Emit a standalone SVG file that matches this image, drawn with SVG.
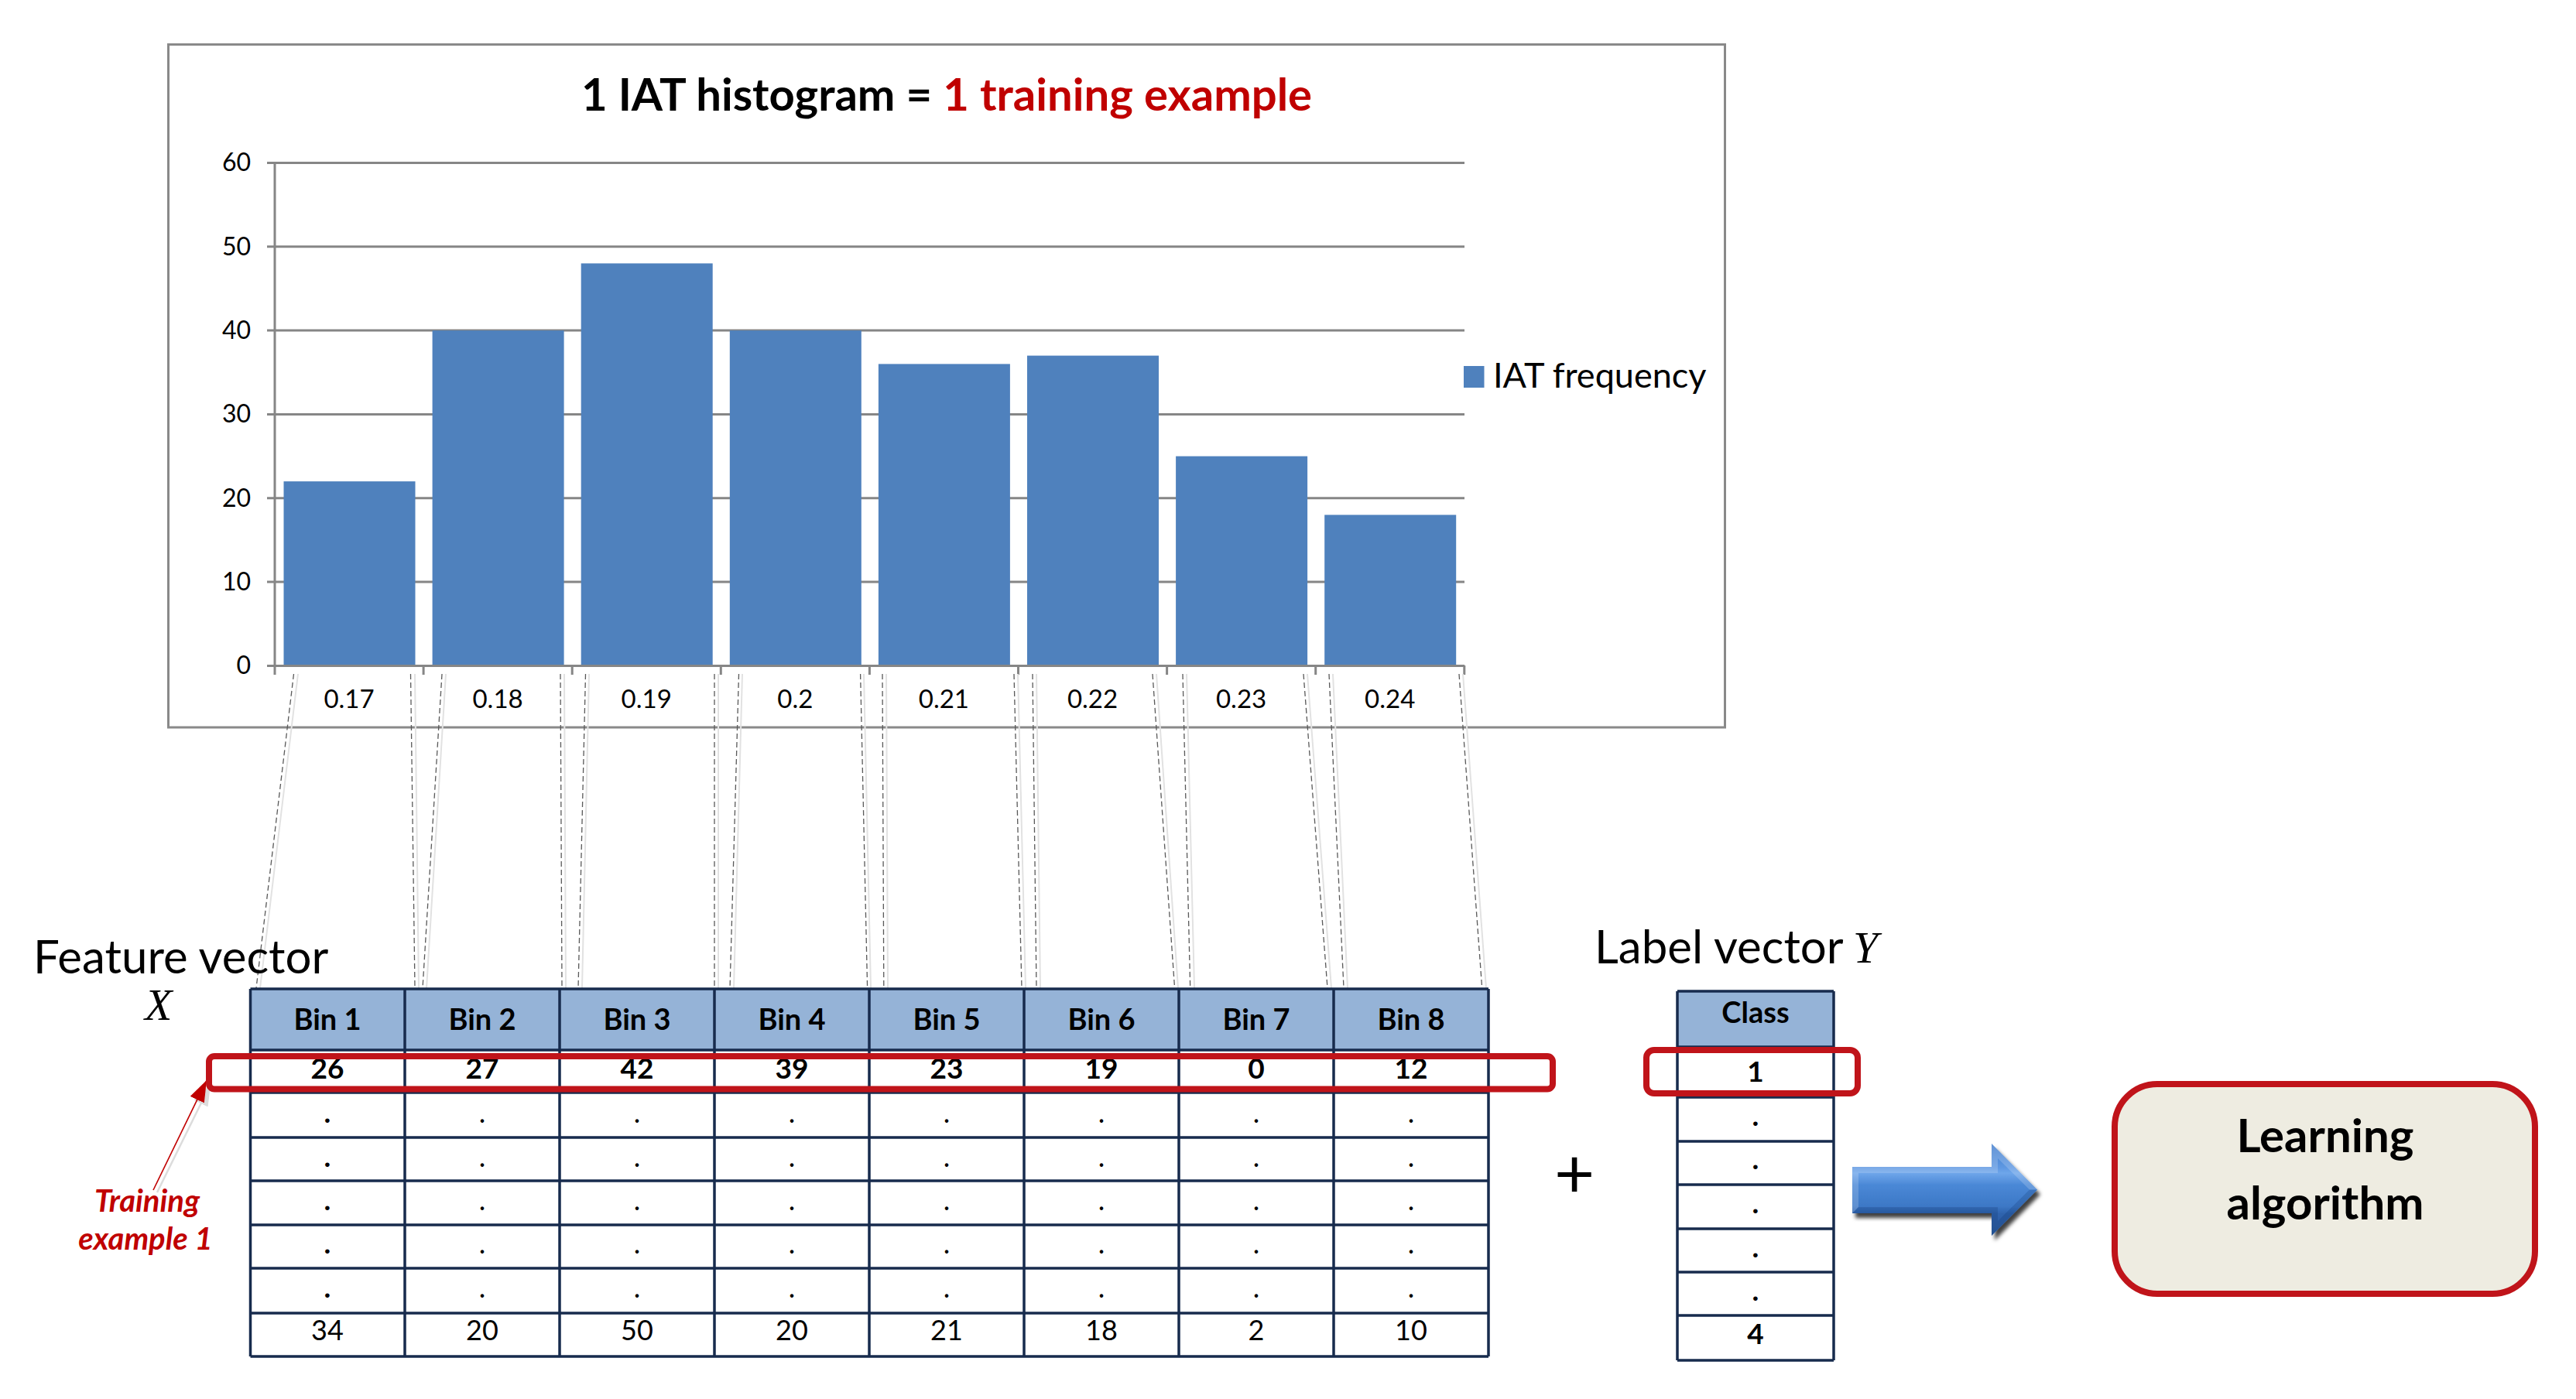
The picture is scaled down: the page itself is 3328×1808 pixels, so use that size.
<svg xmlns="http://www.w3.org/2000/svg" width="3328" height="1808" viewBox="0 0 3328 1808">
<style>
.f{font-family:Lato,"Open Sans","Liberation Sans",sans-serif}
.grid{stroke:#868686;stroke-width:3;fill:none}
.bar{fill:#4F81BD}
.ylab{font-size:32px;text-anchor:end;fill:#000}
.xlab{font-size:33px;text-anchor:middle;fill:#000}
.tline{stroke:#172B4D;stroke-width:3.5;fill:none}
.hdr{fill:#95B3D7}
.th{font-size:38px;font-weight:bold;text-anchor:middle}
.tb{font-size:37px;font-weight:bold;text-anchor:middle}
.tr{font-size:36px;text-anchor:middle}
.dash{stroke:#595959;stroke-width:1.3;stroke-dasharray:7 4;fill:none}
.dsh{stroke:#e2e2e2;stroke-width:2;fill:none}
.redbox{fill:none;stroke:#C0141A;stroke-width:8}
.big{font-size:60px}
.math{font-family:"Liberation Serif","DejaVu Serif",serif;font-style:italic;font-size:58px}
</style>
<defs>
<marker id="redhead" markerUnits="userSpaceOnUse" markerWidth="30" markerHeight="22" refX="28" refY="10" orient="auto">
<path d="M0,0 L28,10 L0,20 Z" fill="#C00000"/>
</marker>
<marker id="shadowhead" markerUnits="userSpaceOnUse" markerWidth="30" markerHeight="22" refX="28" refY="10" orient="auto">
<path d="M0,0 L28,10 L0,20 Z" fill="#dcdcdc"/>
</marker>
<linearGradient id="arrowGrad" gradientUnits="userSpaceOnUse" x1="0" y1="1478" x2="0" y2="1597">
<stop offset="0" stop-color="#3f7bcb"/>
<stop offset="0.26" stop-color="#5e98e2"/>
<stop offset="0.32" stop-color="#6fa6ea"/>
<stop offset="0.45" stop-color="#4a88d6"/>
<stop offset="0.68" stop-color="#3d78c6"/>
<stop offset="0.76" stop-color="#2f63ad"/>
<stop offset="1" stop-color="#2a5a9e"/>
</linearGradient>
<filter id="arrowShadow" x="-10%" y="-20%" width="125%" height="150%">
<feDropShadow dx="4" dy="6" stdDeviation="2.5" flood-color="#000" flood-opacity="0.75"/>
</filter>
</defs>

<rect width="3328" height="1808" fill="#fff"/>

<!-- Chart -->
<g id="chart" class="f">
<rect id="chart-frame" x="217.5" y="57.5" width="2011" height="882.5" fill="#fff" stroke="#898989" stroke-width="3"/>
<text id="chart-title" x="1223" y="143" text-anchor="middle" font-size="58" font-weight="bold" fill="#000">1 IAT histogram = <tspan fill="#C00000">1 training example</tspan></text>
<g id="gridlines">
<line class="grid" x1="345" y1="210.4" x2="1892" y2="210.4"/>
<line class="grid" x1="345" y1="318.7" x2="1892" y2="318.7"/>
<line class="grid" x1="345" y1="427.1" x2="1892" y2="427.1"/>
<line class="grid" x1="345" y1="535.4" x2="1892" y2="535.4"/>
<line class="grid" x1="345" y1="643.7" x2="1892" y2="643.7"/>
<line class="grid" x1="345" y1="752.1" x2="1892" y2="752.1"/>
</g>
<g id="bars">
<rect class="bar" x="366.5" y="622.1" width="170" height="238.3"/>
<rect class="bar" x="558.6" y="427.1" width="170" height="433.3"/>
<rect class="bar" x="750.7" y="340.4" width="170" height="520"/>
<rect class="bar" x="942.8" y="427.1" width="170" height="433.3"/>
<rect class="bar" x="1134.9" y="470.4" width="170" height="390"/>
<rect class="bar" x="1327" y="459.6" width="170" height="400.8"/>
<rect class="bar" x="1519.1" y="589.6" width="170" height="270.8"/>
<rect class="bar" x="1711.2" y="665.4" width="170" height="195"/>
</g>
<g id="axes">
<line class="grid" x1="355" y1="210.4" x2="355" y2="872"/>
<line class="grid" x1="345" y1="860.4" x2="1892" y2="860.4"/>
<path class="grid" d="M547.1,860 V872 M739.2,860 V872 M931.3,860 V872 M1123.4,860 V872 M1315.5,860 V872 M1507.6,860 V872 M1699.7,860 V872 M1891.8,860 V872"/>
</g>
<g id="y-labels">
<text class="ylab" x="324" y="221.4">60</text>
<text class="ylab" x="324" y="329.7">50</text>
<text class="ylab" x="324" y="438.1">40</text>
<text class="ylab" x="324" y="546.4">30</text>
<text class="ylab" x="324" y="654.7">20</text>
<text class="ylab" x="324" y="763.1">10</text>
<text class="ylab" x="324" y="871.4">0</text>
</g>
<g id="x-labels">
<text class="xlab" x="451" y="915">0.17</text>
<text class="xlab" x="643.1" y="915">0.18</text>
<text class="xlab" x="835.2" y="915">0.19</text>
<text class="xlab" x="1027.3" y="915">0.2</text>
<text class="xlab" x="1219.4" y="915">0.21</text>
<text class="xlab" x="1411.5" y="915">0.22</text>
<text class="xlab" x="1603.6" y="915">0.23</text>
<text class="xlab" x="1795.7" y="915">0.24</text>
</g>
<g id="legend">
<rect x="1891" y="473" width="26.5" height="28" fill="#4F81BD"/>
<text x="1929" y="501" font-size="45" fill="#000">IAT frequency</text>
</g>
</g>

<!-- Connectors -->
<g id="connectors">
<g id="projection-shadows">
<line class="dsh" x1="385" y1="871" x2="336" y2="1277"/>
<line class="dsh" x1="536" y1="871" x2="541" y2="1277"/>
<line class="dsh" x1="576" y1="871" x2="551" y2="1277"/>
<line class="dsh" x1="729" y1="871" x2="731" y2="1277"/>
<line class="dsh" x1="761" y1="871" x2="752" y2="1277"/>
<line class="dsh" x1="928" y1="871" x2="928" y2="1277"/>
<line class="dsh" x1="959" y1="871" x2="948" y2="1277"/>
<line class="dsh" x1="1116" y1="871" x2="1125" y2="1277"/>
<line class="dsh" x1="1145" y1="871" x2="1147" y2="1277"/>
<line class="dsh" x1="1315" y1="871" x2="1325" y2="1277"/>
<line class="dsh" x1="1339" y1="871" x2="1344" y2="1277"/>
<line class="dsh" x1="1494" y1="871" x2="1522" y2="1277"/>
<line class="dsh" x1="1533" y1="871" x2="1543" y2="1277"/>
<line class="dsh" x1="1689" y1="871" x2="1720" y2="1277"/>
<line class="dsh" x1="1722" y1="871" x2="1741" y2="1277"/>
<line class="dsh" x1="1890" y1="871" x2="1920" y2="1277"/>
</g>
<g id="projection-lines">
<line class="dash" x1="379.5" y1="871" x2="331" y2="1277"/>
<line class="dash" x1="530.5" y1="871" x2="536" y2="1277"/>
<line class="dash" x1="571" y1="871" x2="546" y2="1277"/>
<line class="dash" x1="724" y1="871" x2="726" y2="1277"/>
<line class="dash" x1="756.5" y1="871" x2="747" y2="1277"/>
<line class="dash" x1="923" y1="871" x2="923" y2="1277"/>
<line class="dash" x1="954.5" y1="871" x2="943" y2="1277"/>
<line class="dash" x1="1111.6" y1="871" x2="1120.6" y2="1277"/>
<line class="dash" x1="1140" y1="871" x2="1141.8" y2="1277"/>
<line class="dash" x1="1310" y1="871" x2="1320" y2="1277"/>
<line class="dash" x1="1334" y1="871" x2="1339" y2="1277"/>
<line class="dash" x1="1489" y1="871" x2="1517.6" y2="1277"/>
<line class="dash" x1="1528" y1="871" x2="1537.7" y2="1277"/>
<line class="dash" x1="1684" y1="871" x2="1715" y2="1277"/>
<line class="dash" x1="1717" y1="871" x2="1736" y2="1277"/>
<line class="dash" x1="1885" y1="871" x2="1914.7" y2="1277"/>
</g>
<g id="training-arrow">
<line x1="203" y1="1541" x2="272" y2="1401" stroke="#dcdcdc" stroke-width="2.5" marker-end="url(#shadowhead)"/>
<line x1="198" y1="1538" x2="267" y2="1396" stroke="#C00000" stroke-width="1.6" marker-end="url(#redhead)"/>
</g>
<g id="flow-arrow" filter="url(#arrowShadow)">
<path d="M2393,1508 L2573,1508 L2573,1478 L2632,1537.5 L2573,1597 L2573,1568 L2393,1568 Z" fill="url(#arrowGrad)"/>
<path d="M2393,1508 L2573,1508 L2573,1478 L2632,1537.5 L2622,1537.5 L2581,1497 L2581,1516 L2401,1516 L2401,1560 L2393,1568 Z" fill="#ffffff" opacity="0.18"/>
<path d="M2393,1568 L2573,1568 L2573,1597 L2632,1537.5 L2622,1537.5 L2581,1578 L2581,1560 L2401,1560 Z" fill="#0b2d66" opacity="0.2"/>
</g>
</g>

<!-- Feature vector label -->
<g id="feature-label" class="f">
<text class="big" x="43" y="1258" fill="#000">Feature vector</text>
<text class="math" x="187" y="1318" fill="#000">X</text>
</g>

<!-- Feature table -->
<g id="feature-table" class="f">
<rect class="hdr" x="323.5" y="1278" width="1599.5" height="79"/>
<rect x="323.5" y="1357" width="1599.5" height="396" fill="#fff"/>
<path class="tline" d="M323.5,1278 H1923 M323.5,1357 H1923 M323.5,1412 H1923 M323.5,1470 H1923 M323.5,1526 H1923 M323.5,1583 H1923 M323.5,1639 H1923 M323.5,1697 H1923 M323.5,1753 H1923"/>
<path class="tline" d="M323.5,1278 V1753 M523,1278 V1753 M723,1278 V1753 M923,1278 V1753 M1123,1278 V1753 M1323,1278 V1753 M1523,1278 V1753 M1723,1278 V1753 M1923,1278 V1753"/>
<g id="feature-header">
<text class="th" x="423" y="1331">Bin 1</text>
<text class="th" x="623" y="1331">Bin 2</text>
<text class="th" x="823" y="1331">Bin 3</text>
<text class="th" x="1023" y="1331">Bin 4</text>
<text class="th" x="1223" y="1331">Bin 5</text>
<text class="th" x="1423" y="1331">Bin 6</text>
<text class="th" x="1623" y="1331">Bin 7</text>
<text class="th" x="1823" y="1331">Bin 8</text>
</g>
<g id="feature-row1">
<text class="tb" x="423" y="1394">26</text>
<text class="tb" x="623" y="1394">27</text>
<text class="tb" x="823" y="1394">42</text>
<text class="tb" x="1023" y="1394">39</text>
<text class="tb" x="1223" y="1394">23</text>
<text class="tb" x="1423" y="1394">19</text>
<text class="tb" x="1623" y="1394">0</text>
<text class="tb" x="1823" y="1394">12</text>
</g>
<g id="feature-dots">
<text class="tb" x="423" y="1451">.</text><text class="tr" x="623" y="1451">.</text><text class="tr" x="823" y="1451">.</text><text class="tr" x="1023" y="1451">.</text><text class="tr" x="1223" y="1451">.</text><text class="tr" x="1423" y="1451">.</text><text class="tr" x="1623" y="1451">.</text><text class="tr" x="1823" y="1451">.</text>
<text class="tb" x="423" y="1508">.</text><text class="tr" x="623" y="1508">.</text><text class="tr" x="823" y="1508">.</text><text class="tr" x="1023" y="1508">.</text><text class="tr" x="1223" y="1508">.</text><text class="tr" x="1423" y="1508">.</text><text class="tr" x="1623" y="1508">.</text><text class="tr" x="1823" y="1508">.</text>
<text class="tb" x="423" y="1564">.</text><text class="tr" x="623" y="1564">.</text><text class="tr" x="823" y="1564">.</text><text class="tr" x="1023" y="1564">.</text><text class="tr" x="1223" y="1564">.</text><text class="tr" x="1423" y="1564">.</text><text class="tr" x="1623" y="1564">.</text><text class="tr" x="1823" y="1564">.</text>
<text class="tb" x="423" y="1620">.</text><text class="tr" x="623" y="1620">.</text><text class="tr" x="823" y="1620">.</text><text class="tr" x="1023" y="1620">.</text><text class="tr" x="1223" y="1620">.</text><text class="tr" x="1423" y="1620">.</text><text class="tr" x="1623" y="1620">.</text><text class="tr" x="1823" y="1620">.</text>
<text class="tb" x="423" y="1677">.</text><text class="tr" x="623" y="1677">.</text><text class="tr" x="823" y="1677">.</text><text class="tr" x="1023" y="1677">.</text><text class="tr" x="1223" y="1677">.</text><text class="tr" x="1423" y="1677">.</text><text class="tr" x="1623" y="1677">.</text><text class="tr" x="1823" y="1677">.</text>
</g>
<g id="feature-lastrow">
<text class="tr" x="423" y="1732">34</text>
<text class="tr" x="623" y="1732">20</text>
<text class="tr" x="823" y="1732">50</text>
<text class="tr" x="1023" y="1732">20</text>
<text class="tr" x="1223" y="1732">21</text>
<text class="tr" x="1423" y="1732">18</text>
<text class="tr" x="1623" y="1732">2</text>
<text class="tr" x="1823" y="1732">10</text>
</g>
</g>

<g id="training-example-box">
<rect class="redbox" x="270" y="1365" width="1736" height="42.5" rx="7"/>
</g>

<g id="training-label" class="f" fill="#C00000" font-weight="bold" font-style="italic" font-size="40" text-anchor="middle">
<text x="190" y="1566">Training</text>
<text x="188" y="1615">example 1</text>
</g>

<!-- Label vector -->
<g id="label-title" class="f">
<text class="big" x="2060" y="1245" fill="#000">Label vector</text>
<text class="math" x="2394" y="1244" fill="#000">Y</text>
</g>

<g id="label-table" class="f">
<rect class="hdr" x="2167" y="1281" width="202" height="72"/>
<rect x="2167" y="1353" width="202" height="405" fill="#fff"/>
<path class="tline" d="M2167,1281 H2369 M2167,1353 H2369 M2167,1418 H2369 M2167,1475 H2369 M2167,1531 H2369 M2167,1588 H2369 M2167,1644 H2369 M2167,1700 H2369 M2167,1758 H2369 M2167,1281 V1758 M2369,1281 V1758"/>
<text class="th" x="2268" y="1322">Class</text>
<text class="tb" x="2268" y="1398">1</text>
<text class="tb" x="2268" y="1455">.</text>
<text class="tb" x="2268" y="1511">.</text>
<text class="tb" x="2268" y="1568">.</text>
<text class="tb" x="2268" y="1625">.</text>
<text class="tb" x="2268" y="1681">.</text>
<text class="tb" x="2268" y="1737">4</text>
</g>

<g id="class-example-box">
<rect class="redbox" x="2127" y="1357" width="273" height="56" rx="10"/>
</g>

<g id="plus" class="f">
<text x="2034" y="1548" font-size="90" text-anchor="middle" fill="#000">+</text>
</g>

<g id="learning-algorithm" class="f">
<rect x="2732" y="1401" width="543" height="271" rx="55" fill="#EEECE1" stroke="#C0141A" stroke-width="8"/>
<text x="3004" y="1489" font-size="60" font-weight="bold" text-anchor="middle" fill="#000">Learning</text>
<text x="3004" y="1576" font-size="60" font-weight="bold" text-anchor="middle" fill="#000">algorithm</text>
</g>
</svg>
